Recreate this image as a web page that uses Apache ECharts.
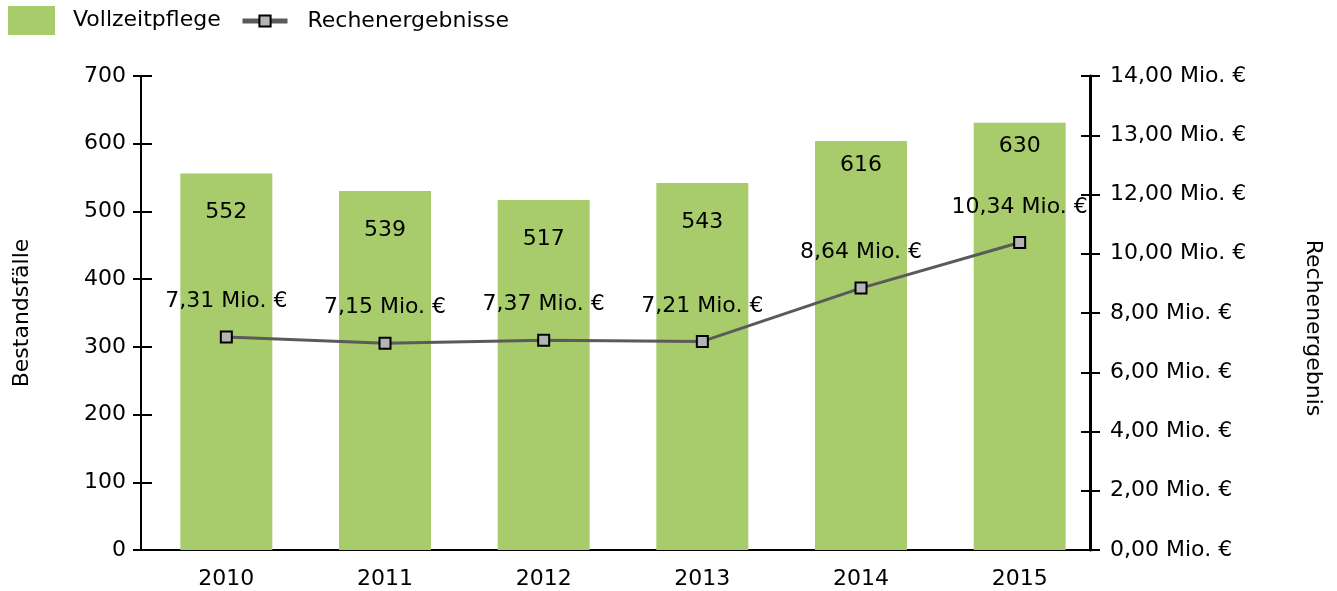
<!DOCTYPE html>
<html>
<head>
<meta charset="utf-8">
<script src="https://cdn.jsdelivr.net/npm/echarts@6/dist/echarts.min.js"></script>
<style>
  html, body { margin: 0; padding: 0; background: #fff; }
  #chart { width: 1337px; height: 591px; }
</style>
</head>
<body>
<div id="chart"></div>
<script>
// Daten
const years = ['2010', '2011', '2012', '2013', '2014', '2015'];
// Balkenhöhen
const bestandHoehe = [556, 530, 517, 542, 604, 631];
// Beschriftung der Balken
const bestandLabels = ['552', '539', '517', '543', '616', '630'];
const rechenWerte = [7.19, 6.98, 7.08, 7.04, 8.84, 10.38];
// Beschriftung der Linienpunkte
const rechenLabels = ['7,31', '7,15', '7,37', '7,21', '8,64', '10,34'];
// Striche der rechten Achse (nicht gleichmäßig!)
const rechtsTicks = [0, 2, 4, 6, 8, 10, 12, 13, 14];

// Wert -> Position auf der rechten Achse (stückweise linear zwischen den Strichen)
function rechtsPos(v) {
  for (let i = 1; i < rechtsTicks.length; i++) {
    if (v <= rechtsTicks[i]) {
      const a = rechtsTicks[i - 1], b = rechtsTicks[i];
      return i - 1 + (v - a) / (b - a);
    }
  }
  return rechtsTicks.length - 1;
}

const fontFam = '"DejaVu Sans", sans-serif';
const fs = 22;
const chart = echarts.init(document.getElementById('chart'));

const tickStyle = { color: '#000', width: 2 };

// Balkenbeschriftung: bei den beiden letzten Jahren näher an der Oberkante
const barData = bestandHoehe.map((v, i) => ({
  value: v,
  label: { distance: i >= 4 ? 13 : 28 }
}));

const option = {
  animation: false,
  textStyle: { fontFamily: fontFam },
  legend: [
    {
      left: 3, top: 1,
      itemWidth: 47, itemHeight: 29,
      data: [{ name: 'Vollzeitpflege', icon: 'rect' }],
      textStyle: { fontSize: fs, color: '#000', padding: [0, 0, 0, 13] }
    },
    {
      left: 235, top: 5,
      itemWidth: 45, itemHeight: 14,
      data: ['Rechenergebnisse'],
      lineStyle: { width: 5 },
      textStyle: { fontSize: fs, color: '#000', padding: [0, 0, 0, 15] }
    }
  ],
  grid: { left: 147, right: 238, top: 76, bottom: 41 },
  xAxis: {
    type: 'category',
    data: years,
    axisLine: { lineStyle: { color: '#000', width: 2 } },
    axisTick: { show: false },
    axisLabel: { fontSize: fs, color: '#000', margin: 18 }
  },
  yAxis: [
    {
      type: 'value', position: 'left', offset: 6,
      min: 0, max: 700, interval: 100,
      name: 'Bestandsfälle', nameLocation: 'middle', nameRotate: 90, nameGap: 108,
      nameTextStyle: { fontSize: fs, color: '#000' },
      axisLine: { show: true, lineStyle: { color: '#000', width: 2 } },
      axisTick: { show: true, length: 8, lineStyle: tickStyle },
      axisLabel: { fontSize: fs, color: '#000', margin: 15 },
      splitLine: { show: false }
    },
    {
      type: 'value', position: 'right', offset: -9,
      min: 0, max: rechtsTicks.length - 1, interval: 1,
      name: 'Rechenergebnis', nameLocation: 'middle', nameRotate: -90, nameGap: 212,
      nameTextStyle: { fontSize: fs, color: '#000', padding: [0, 0, 0, 30] },
      axisLine: { show: true, lineStyle: { color: '#000', width: 3 } },
      axisTick: { show: true, length: 10, lineStyle: tickStyle },
      axisLabel: {
        fontSize: fs, color: '#000', margin: 20,
        formatter: v => rechtsTicks[v].toFixed(2).replace('.', ',') + ' Mio. €'
      },
      splitLine: { show: false }
    },
    {
      // Innenstriche links
      type: 'value', position: 'left', offset: 6,
      min: 0, max: 700, interval: 100,
      axisLine: { show: false },
      axisTick: { show: true, inside: true, length: 11, lineStyle: tickStyle },
      axisLabel: { show: false },
      splitLine: { show: false }
    },
    {
      // Innenstriche rechts
      type: 'value', position: 'right', offset: -9,
      min: 0, max: rechtsTicks.length - 1, interval: 1,
      axisLine: { show: false },
      axisTick: { show: true, inside: true, length: 9, lineStyle: tickStyle },
      axisLabel: { show: false },
      splitLine: { show: false }
    }
  ],
  series: [
    {
      name: 'Vollzeitpflege',
      type: 'bar',
      barWidth: 92,
      yAxisIndex: 0,
      itemStyle: { color: '#a8cc6c' },
      data: barData,
      label: {
        show: true, position: 'insideTop', distance: 28,
        fontSize: fs, color: '#000',
        formatter: p => bestandLabels[p.dataIndex]
      },
      z: 1
    },
    {
      name: 'Rechenergebnisse',
      type: 'line',
      yAxisIndex: 1,
      data: rechenWerte.map(rechtsPos),
      symbol: 'rect',
      symbolSize: 11,
      lineStyle: { color: '#5a5a5a', width: 3 },
      itemStyle: { color: '#b4b4b4', borderColor: '#000', borderWidth: 2 },
      label: {
        show: true, position: 'top', distance: 18,
        fontSize: fs, color: '#000',
        formatter: p => rechenLabels[p.dataIndex] + ' Mio. €'
      },
      z: 3
    }
  ]
};

chart.setOption(option);
</script>
</body>
</html>
